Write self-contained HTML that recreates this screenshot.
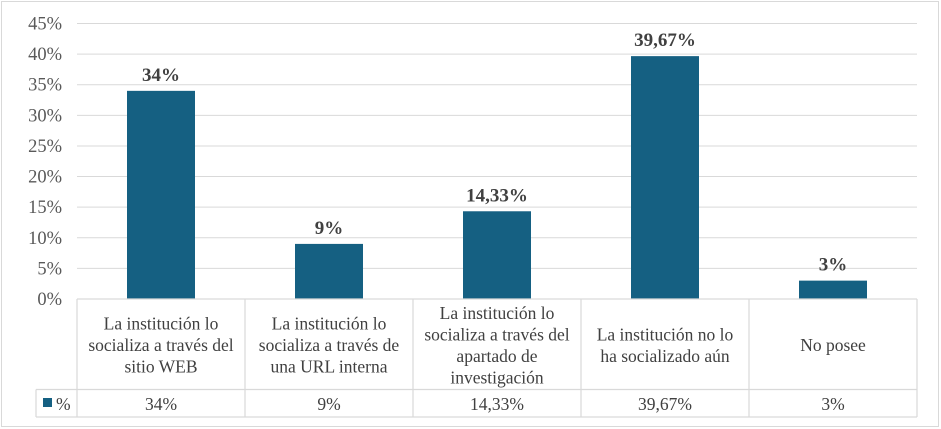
<!DOCTYPE html>
<html><head><meta charset="utf-8"><style>
body{margin:0;background:#fff}
svg{display:block;font-family:"Liberation Serif",serif}
</style></head><body>
<svg id="c" width="941" height="429">
<rect x="1.5" y="1.5" width="937" height="425" fill="#fff" stroke="#d9d9d9"/>
</svg>
<script>
const categories=[["La institución lo","socializa a través del","sitio WEB"],["La institución lo","socializa a través de","una URL interna"],["La institución lo","socializa a través del","apartado de","investigación"],["La institución no lo","ha socializado aún"],["No posee"]];
const values=[34,9,14.33,39.67,3];
const valueLabels=["34%","9%","14,33%","39,67%","3%"];
const ticks=[0,5,10,15,20,25,30,35,40,45];
const NS="http://www.w3.org/2000/svg";
const svg=document.getElementById("c");
const X0=77,X1=917,Y0=299,Y45=23.5;
const colW=(X1-X0)/categories.length;
const y=v=>Y0-(Y0-Y45)*v/45;
const x=i=>X0+colW*i+colW/2;
function mk(t,a,txt){const e=document.createElementNS(NS,t);for(const k in a)e.setAttribute(k,a[k]);if(txt!=null)e.textContent=txt;svg.appendChild(e);return e;}
ticks.forEach(t=>{
 if(t>0){const g=mk("line",{x1:X0,x2:X1,y1:y(t),y2:y(t),stroke:"#d9d9d9","stroke-width":1});
 
 }
 const l=mk("text",{x:62,y:y(t)+6,"text-anchor":"end","font-size":18.5,fill:"#595959"},t+"%");
 
 
});
values.forEach((v,i)=>{
 const b=mk("rect",{x:x(i)-34,y:y(v),width:68,height:Y0-y(v),fill:"#156082"});
 
 
 const t=mk("text",{x:x(i),y:y(v)-10,"text-anchor":"middle","font-size":19,"font-weight":"bold",fill:"#404040"},valueLabels[i]);
 
 
 const n=categories[i].length,lh=21.5,cy=345;
 categories[i].forEach((s,j)=>{
  const c=mk("text",{x:x(i),y:cy-(n-1)*lh/2+j*lh+6,"text-anchor":"middle","font-size":17.5,fill:"#404040"},s);
  
  
 });
 const d=mk("text",{x:x(i),y:410,"text-anchor":"middle","font-size":17.5,fill:"#404040"},valueLabels[i]);
 
 
});
const st={stroke:"#d9d9d9","stroke-width":1.2,fill:"none"};
[[X0,Y0,X1,Y0],[36,389.5,X1,389.5],[36,417,X1,417],[36,389.5,36,417]].forEach(a=>{const l=mk("line",Object.assign({x1:a[0],y1:a[1],x2:a[2],y2:a[3]},st));
 
 });
for(let i=0;i<=categories.length;i++){const l=mk("line",Object.assign({x1:X0+colW*i,y1:Y0,x2:X0+colW*i,y2:417},st));
 
 }
const lk=mk("rect",{x:43,y:398,width:9,height:9,fill:"#156082"});


const lt=mk("text",{x:56,y:410,"font-size":17.5,fill:"#404040"},"%");


</script>
</body></html>
